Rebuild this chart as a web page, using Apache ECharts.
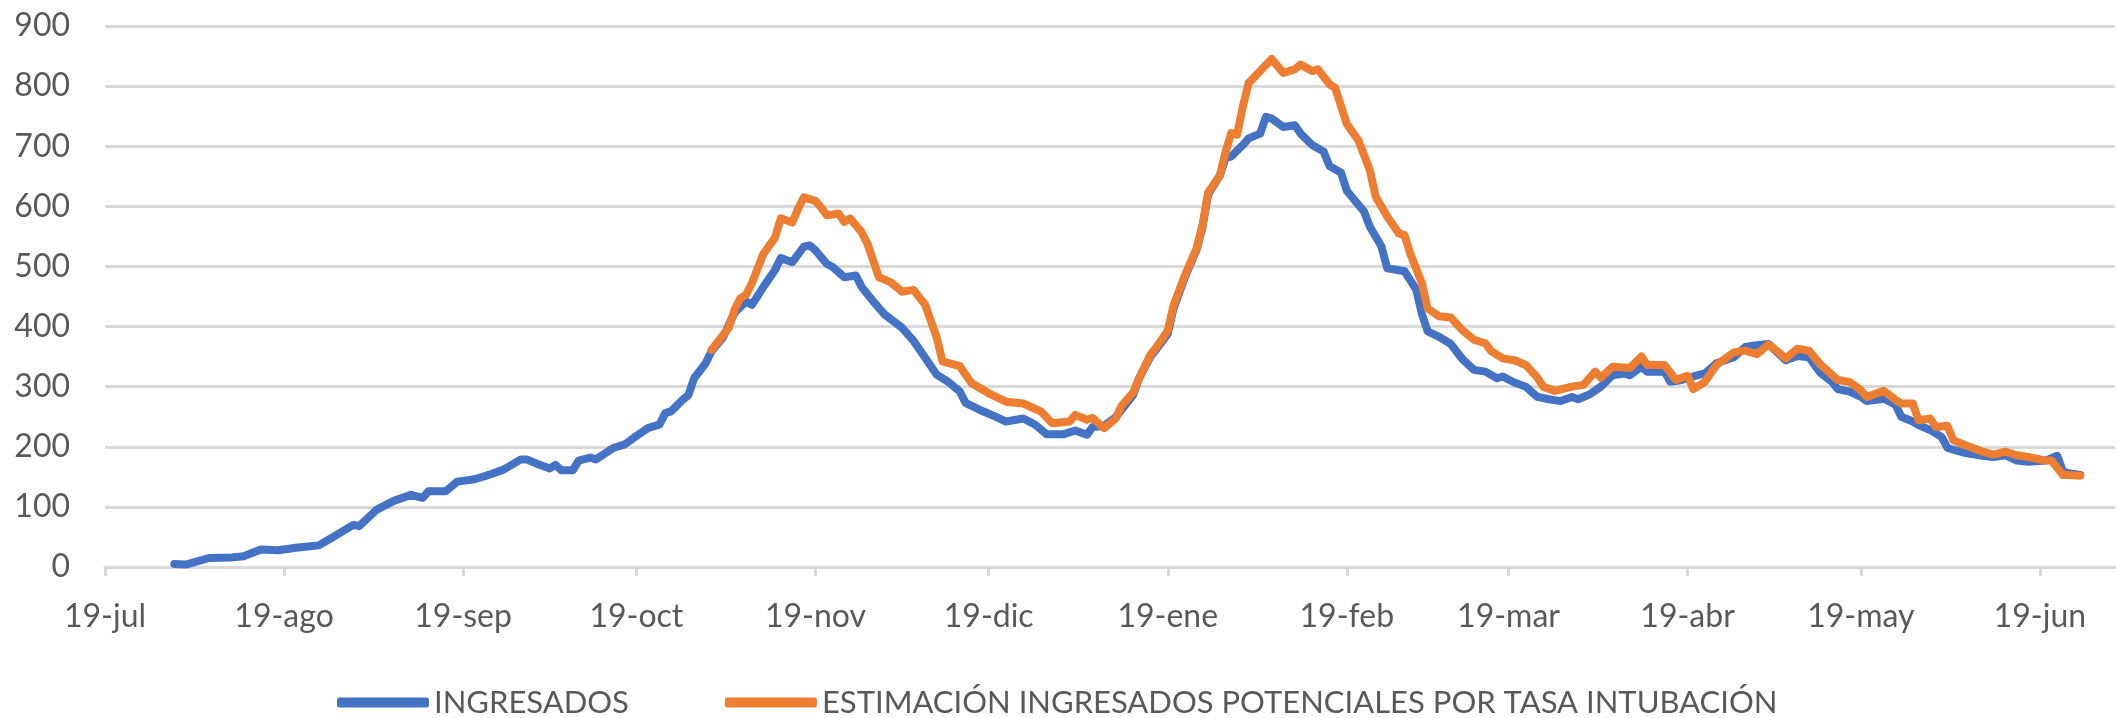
<!DOCTYPE html>
<html>
<head>
<meta charset="utf-8">
<title>Ingresados</title>
<script src="https://cdn.jsdelivr.net/npm/echarts@6.0.0/dist/echarts.min.js"></script>
<style>
html, body { margin: 0; padding: 0; background: #fff; }
#main { width: 2118px; height: 718px; }
</style>
</head>
<body>
<div id="main"></div>
<script>
// eje x: marcas el dia 19 de cada mes
var tickDates = ['2020-07-19','2020-08-19','2020-09-19','2020-10-19','2020-11-19','2020-12-19',
	'2021-01-19','2021-02-19','2021-03-19','2021-04-19','2021-05-19','2021-06-19'];
var tickLabels = ['19-jul','19-ago','19-sep','19-oct','19-nov','19-dic',
	'19-ene','19-feb','19-mar','19-abr','19-may','19-jun'];

var seriesNames = ['INGRESADOS', 'ESTIMACIÓN INGRESADOS POTENCIALES POR TASA INTUBACIÓN'];

var ingresados = [
	['2020-07-31',5],['2020-08-02',4],['2020-08-06',15],['2020-08-10',16],['2020-08-12',18],
	['2020-08-15',29],['2020-08-18',28],['2020-08-21',32],['2020-08-25',36],['2020-08-27',47],
	['2020-08-31',70],['2020-09-01',68],['2020-09-04',95],['2020-09-07',110],['2020-09-10',120],
	['2020-09-12',115],['2020-09-13',126],['2020-09-16',126],['2020-09-18',142],['2020-09-21',146],
	['2020-09-24',155],['2020-09-26',162],['2020-09-29',179],['2020-09-30',179],['2020-10-02',171],
	['2020-10-04',164],['2020-10-05',170],['2020-10-06',161],['2020-10-08',161],['2020-10-09',177],
	['2020-10-11',182],['2020-10-12',179],['2020-10-15',198],['2020-10-17',204],['2020-10-19',218],
	['2020-10-21',231],['2020-10-23',237],['2020-10-24',256],['2020-10-25',259],['2020-10-27',278],
	['2020-10-28',286],['2020-10-29',314],['2020-10-31',339],['2020-11-01',359],['2020-11-03',382],
	['2020-11-05',423],['2020-11-07',442],['2020-11-08',436],['2020-11-10',466],['2020-11-12',494],
	['2020-11-13',514],['2020-11-15',507],['2020-11-17',533],['2020-11-18',535],['2020-11-19',527],
	['2020-11-21',504],['2020-11-22',499],['2020-11-24',482],['2020-11-26',485],['2020-11-27',466],
	['2020-11-29',442],['2020-12-01',420],['2020-12-04',398],['2020-12-06',376],['2020-12-08',348],
	['2020-12-10',320],['2020-12-12',308],['2020-12-14',292],['2020-12-15',273],['2020-12-18',259],
	['2020-12-20',251],['2020-12-22',242],['2020-12-25',247],['2020-12-27',237],['2020-12-29',221],
	['2021-01-01',221],['2021-01-03',227],['2021-01-05',220],['2021-01-06',233],['2021-01-08',235],
	['2021-01-10',249],['2021-01-13',286],['2021-01-14',313],['2021-01-16',350],['2021-01-17',362],
	['2021-01-19',388],['2021-01-20',430],['2021-01-22',483],['2021-01-24',528],['2021-01-25',565],
	['2021-01-26',620],['2021-01-28',651],['2021-01-29',680],['2021-01-30',683],['2021-02-01',702],
	['2021-02-02',713],['2021-02-04',721],['2021-02-05',749],['2021-02-06',746],['2021-02-08',732],
	['2021-02-10',735],['2021-02-11',721],['2021-02-13',702],['2021-02-15',691],['2021-02-16',667],
	['2021-02-18',656],['2021-02-19',626],['2021-02-22',591],['2021-02-23',566],['2021-02-25',533],
	['2021-02-26',497],['2021-03-01',492],['2021-03-03',462],['2021-03-04',421],['2021-03-05',392],
	['2021-03-07',383],['2021-03-09',371],['2021-03-11',346],['2021-03-13',328],['2021-03-15',325],
	['2021-03-17',314],['2021-03-18',317],['2021-03-20',307],['2021-03-22',300],['2021-03-24',283],
	['2021-03-26',279],['2021-03-28',276],['2021-03-30',283],['2021-03-31',279],['2021-04-02',287],
	['2021-04-04',300],['2021-04-06',319],['2021-04-08',322],['2021-04-09',319],['2021-04-11',333],
	['2021-04-12',325],['2021-04-15',325],['2021-04-16',308],['2021-04-18',311],['2021-04-20',317],
	['2021-04-22',322],['2021-04-24',339],['2021-04-27',349],['2021-04-29',366],['2021-05-01',369],
	['2021-05-03',371],['2021-05-06',344],['2021-05-08',351],['2021-05-10',349],['2021-05-12',323],
	['2021-05-14',308],['2021-05-15',296],['2021-05-17',292],['2021-05-19',283],['2021-05-20',276],
	['2021-05-23',280],['2021-05-25',270],['2021-05-26',250],['2021-05-28',242],['2021-05-29',236],
	['2021-05-31',228],['2021-06-02',216],['2021-06-03',198],['2021-06-06',190],['2021-06-09',185],
	['2021-06-11',183],['2021-06-13',186],['2021-06-15',177],['2021-06-17',175],['2021-06-20',177],
	['2021-06-22',185],['2021-06-23',159],['2021-06-24',156],['2021-06-26',153]
];

var estimacion = [
	['2020-11-01',361],['2020-11-04',398],['2020-11-05',428],['2020-11-06',447],['2020-11-07',453],
	['2020-11-08',472],['2020-11-10',521],['2020-11-12',548],['2020-11-13',580],['2020-11-15',573],
	['2020-11-16',596],['2020-11-17',615],['2020-11-19',609],['2020-11-20',598],['2020-11-21',585],
	['2020-11-23',588],['2020-11-24',574],['2020-11-25',580],['2020-11-27',557],['2020-11-28',538],
	['2020-11-30',482],['2020-12-02',474],['2020-12-04',458],['2020-12-06',461],['2020-12-08',436],
	['2020-12-10',382],['2020-12-11',342],['2020-12-14',334],['2020-12-16',306],['2020-12-19',289],
	['2020-12-22',275],['2020-12-25',272],['2020-12-28',259],['2020-12-30',239],['2021-01-02',242],
	['2021-01-03',253],['2021-01-05',245],['2021-01-06',248],['2021-01-08',231],['2021-01-10',247],
	['2021-01-11',268],['2021-01-13',290],['2021-01-14',313],['2021-01-16',353],['2021-01-17',365],
	['2021-01-19',393],['2021-01-20',435],['2021-01-22',486],['2021-01-24',530],['2021-01-25',568],
	['2021-01-26',623],['2021-01-28',651],['2021-01-29',690],['2021-01-30',722],['2021-01-31',719],
	['2021-02-01',766],['2021-02-02',805],['2021-02-04',825],['2021-02-06',845],['2021-02-08',822],
	['2021-02-10',828],['2021-02-11',836],['2021-02-13',825],['2021-02-14',828],['2021-02-16',803],
	['2021-02-17',797],['2021-02-19',737],['2021-02-21',710],['2021-02-23',660],['2021-02-24',616],
	['2021-02-26',583],['2021-02-28',555],['2021-03-01',552],['2021-03-02',521],['2021-03-04',472],
	['2021-03-05',430],['2021-03-07',417],['2021-03-09',415],['2021-03-11',394],['2021-03-13',378],
	['2021-03-15',372],['2021-03-16',359],['2021-03-18',347],['2021-03-20',344],['2021-03-22',336],
	['2021-03-24',315],['2021-03-25',300],['2021-03-27',293],['2021-03-30',300],['2021-04-01',303],
	['2021-04-03',325],['2021-04-04',315],['2021-04-06',333],['2021-04-08',332],['2021-04-09',331],
	['2021-04-11',350],['2021-04-12',336],['2021-04-15',336],['2021-04-17',311],['2021-04-19',318],
	['2021-04-20',296],['2021-04-22',308],['2021-04-24',336],['2021-04-27',357],['2021-04-29',360],
	['2021-05-01',354],['2021-05-03',370],['2021-05-04',363],['2021-05-06',347],['2021-05-08',363],
	['2021-05-10',360],['2021-05-12',337],['2021-05-14',320],['2021-05-15',311],['2021-05-17',308],
	['2021-05-19',294],['2021-05-20',283],['2021-05-23',293],['2021-05-25',278],['2021-05-26',272],
	['2021-05-28',272],['2021-05-29',244],['2021-05-31',247],['2021-06-01',233],['2021-06-03',235],
	['2021-06-04',211],['2021-06-06',203],['2021-06-09',192],['2021-06-11',187],['2021-06-13',192],
	['2021-06-15',186],['2021-06-17',183],['2021-06-20',177],['2021-06-21',177],['2021-06-23',153],
	['2021-06-24',153],['2021-06-26',152]
];

var axisStart = '2020-07-19';
var axisEnd = '2021-07-02';

function toTime(s){
	var p = s.split('-');
	return new Date(+p[0], +p[1] - 1, +p[2]).getTime();
}

function toSeries(list){
	var out = [];
	for(var i = 0; i < list.length; i++){
		out.push([toTime(list[i][0]), list[i][1]]);
	}
	return out;
}

function initChart(){
	var tickTimes = [];
	var labelOf = {};
	for(var i = 0; i < tickDates.length; i++){
		var t = toTime(tickDates[i]);
		tickTimes.push(t);
		labelOf[t] = tickLabels[i];
	}

	var font = 'Lato';
	var grey = '#595959';
	var gridColor = '#D9D9D9';

	var myChart = echarts.init(document.getElementById('main'));
	var option = {
		animation: false,
		backgroundColor: '#fff',
		grid: {
			left: 105,
			right: 3,
			top: 26,
			bottom: 151,
			outerBoundsMode: 'none'
		},
		legend: {
			data: seriesNames,
			left: 332,
			top: 682,
			icon: 'roundRect',
			itemWidth: 92,
			itemHeight: 10,
			itemGap: 96,
			textStyle: { color: grey, fontSize: 31, fontFamily: font }
		},
		xAxis: {
			// eje de valores con marcas de tiempo, marcas propias el dia 19
			type: 'value',
			min: toTime(axisStart),
			max: toTime(axisEnd),
			axisLine: { lineStyle: { color: gridColor, width: 3 } },
			axisTick: {
				show: true,
				customValues: tickTimes,
				length: 9,
				lineStyle: { color: gridColor, width: 3 }
			},
			axisLabel: {
				customValues: tickTimes,
				color: grey,
				fontSize: 32,
				fontFamily: font,
				margin: 34,
				formatter: function(value){
					return labelOf[value] || '';
				}
			},
			splitLine: { show: false }
		},
		yAxis: {
			type: 'value',
			min: 0,
			max: 900,
			interval: 100,
			axisLine: { show: false },
			axisTick: { show: false },
			axisLabel: { color: grey, fontSize: 32, fontFamily: font, margin: 35 },
			splitLine: { lineStyle: { color: gridColor, width: 3 } }
		},
		series: [
			{
				name: seriesNames[0],
				type: 'line',
				showSymbol: false,
				symbol: 'none',
				color: '#4472C4',
				lineStyle: { width: 8, color: '#4472C4', join: 'round', cap: 'round' },
				data: toSeries(ingresados)
			},
			{
				name: seriesNames[1],
				type: 'line',
				showSymbol: false,
				symbol: 'none',
				color: '#ED7D31',
				lineStyle: { width: 8, color: '#ED7D31', join: 'round', cap: 'round' },
				data: toSeries(estimacion)
			}
		]
	};
	myChart.setOption(option);
}

initChart();
</script>
</body>
</html>
